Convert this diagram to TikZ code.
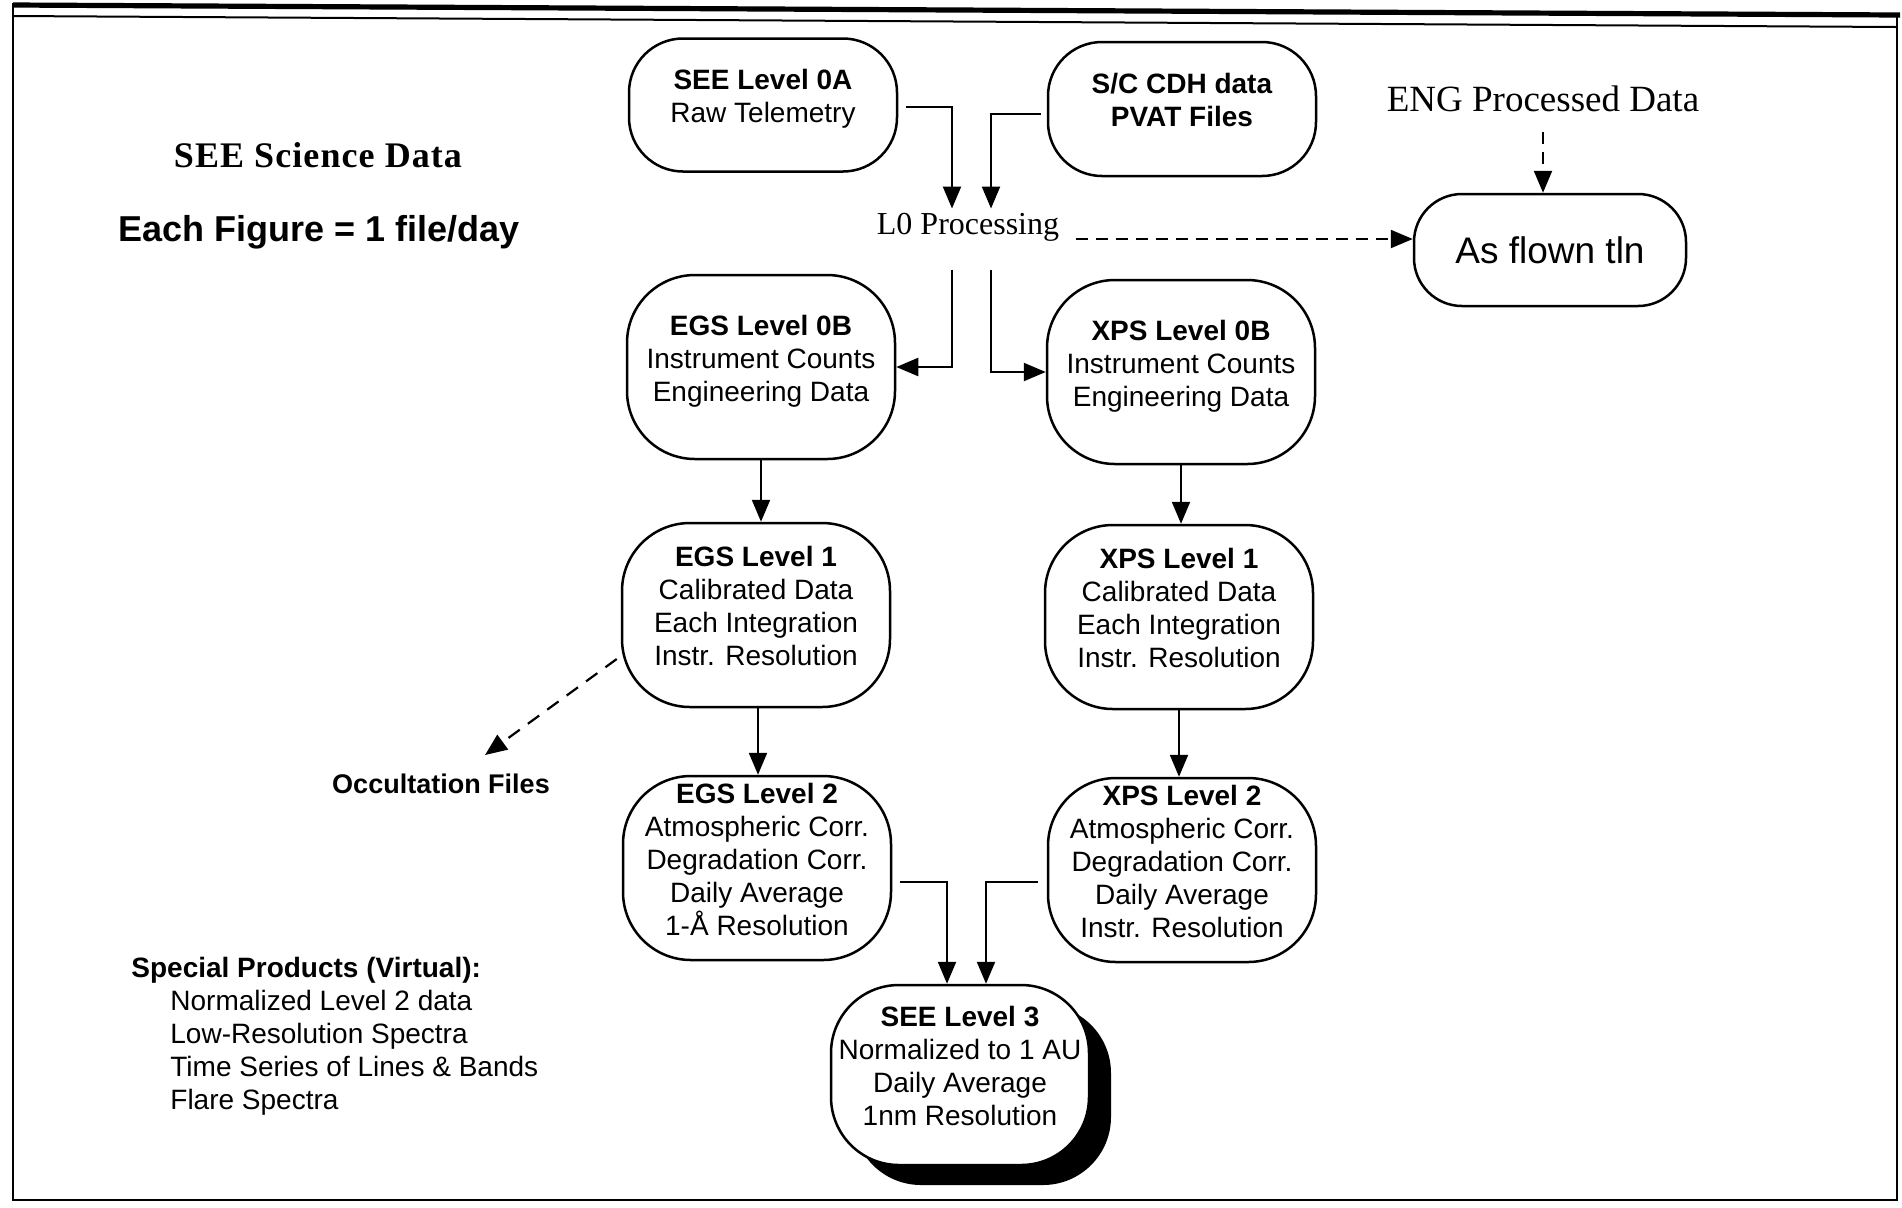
\documentclass[tikz,border=0pt]{standalone}
\usepackage{fontspec}
\setmainfont{Liberation Serif}
\setsansfont{Liberation Sans}
\usetikzlibrary{arrows.meta,shadows}

\begin{document}
\begin{tikzpicture}[x=0.5pt,y=-0.5pt,
  level/.style={draw, line width=1.25pt, rounded corners=34pt, align=center,
    minimum width=134pt, minimum height=92pt, inner sep=0pt, text depth=9pt,
    font=\sffamily\fontsize{14}{16.5}\selectfont},
  flow/.style={-{Triangle[length=11pt,width=9pt]}, line width=1.1pt},
  hint/.style={flow, dash pattern=on 6pt off 4pt}]
  \useasboundingbox (0,0) rectangle (1902,1207);

  \draw[line width=2.6pt] (13,5) -- (1900,15);
  \draw[line width=1pt] (13,16) -- (1897,27);
  \draw[line width=1.2pt] (13,3) -- (13,1200) -- (1897,1200) -- (1897,14);

  \node[font=\bfseries\fontsize{18}{20}\selectfont\addfontfeatures{LetterSpace=3}] (sci) at (318,155) {SEE Science Data};
  \node[font=\sffamily\bfseries\fontsize{18}{20}\selectfont] (fig) at (319,232) {Each Figure = 1 file/day};

  \node[level, minimum height=66.5pt, rounded corners=27pt] (see0a) at (763,105) {\textbf{SEE Level 0A}\\Raw Telemetry};
  \node[level, minimum height=67pt, rounded corners=27pt] (cdh) at (1182,109) {\textbf{S/C CDH data}\\\textbf{PVAT Files}};
  \node[font=\fontsize{16}{18}\selectfont, inner sep=2pt] (l0) at (968,227) {L0 Processing};
  \node[font=\fontsize{18.5}{20}\selectfont, inner sep=2pt] (eng) at (1543,99) {ENG Processed Data};
  \node[level, minimum width=136pt, minimum height=56pt, rounded corners=24pt, text depth=,
    font=\sffamily\fontsize{18.5}{20}\selectfont] (flown) at (1550,250) {As flown tln};

  \node[level] (egs0) at (761,367) {\textbf{EGS Level 0B}\\Instrument Counts\\Engineering Data};
  \node[level] (xps0) at (1181,372) {\textbf{XPS Level 0B}\\Instrument Counts\\Engineering Data};
  \node[level] (egs1) at (756,615) {\textbf{EGS Level 1}\\Calibrated Data\\Each Integration\\Instr. Resolution};
  \node[level] (xps1) at (1179,617) {\textbf{XPS Level 1}\\Calibrated Data\\Each Integration\\Instr. Resolution};
  \node[level] (egs2) at (757,868) {\textbf{EGS Level 2}\\Atmospheric Corr.\\Degradation Corr.\\Daily Average\\1-Å Resolution};
  \node[level] (xps2) at (1182,870) {\textbf{XPS Level 2}\\Atmospheric Corr.\\Degradation Corr.\\Daily Average\\Instr. Resolution};
  \node[level, minimum width=129pt, minimum height=90pt, fill=white,
    drop shadow={shadow xshift=11pt, shadow yshift=-10pt, opacity=1, fill=black}] (see3) at (960,1075)
    {\textbf{SEE Level 3}\\Normalized to 1 AU\\Daily Average\\1nm Resolution};

  \node[font=\sffamily\bfseries\fontsize{13.5}{16}\selectfont] (occ) at (441,784) {Occultation Files};
  \node[anchor=north west, align=left, inner sep=0pt, font=\sffamily\fontsize{14}{16.5}\selectfont] (special) at (131,957)
    {\textbf{Special Products (Virtual):}\\\hspace*{19.5pt}Normalized Level 2 data\\\hspace*{19.5pt}Low-Resolution Spectra\\
     \hspace*{19.5pt}Time Series of Lines \& Bands\\\hspace*{19.5pt}Flare Spectra};

  \draw[flow] ([xshift=4pt,yshift=-1pt]see0a.east) -| ([xshift=-8pt]l0.north);
  \draw[flow] ([xshift=-3pt,yshift=-2.5pt]cdh.west) -| ([xshift=11.5pt]l0.north);
  \draw[flow, shorten <=12pt] ([xshift=-8pt]l0.south) |- (egs0.east);
  \draw[flow, shorten <=12pt] ([xshift=11.5pt]l0.south) |- (xps0.west);
  \draw[hint] ([xshift=6pt,yshift=-6pt]l0.east) -- ([yshift=-6pt]l0.east -| flown.west);
  \draw[hint, shorten <=8pt] (eng.south) -- (eng.south |- flown.north);

  \draw[flow] (egs0.south) -- (egs0.south |- egs1.north);
  \draw[flow] (xps0.south) -- (xps0.south |- xps1.north);
  \draw[flow] ([xshift=1pt]egs1.south) -- ([xshift=1pt]egs1.south |- egs2.north);
  \draw[flow] (xps1.south) -- (xps1.south |- xps2.north);
  \draw[hint, dash pattern=on 7pt off 5pt] ([xshift=-2pt,yshift=-22pt]egs1.west) -- ([xshift=22pt,yshift=6pt]occ.north);

  \draw[flow] ([xshift=4pt,yshift=-7pt]egs2.east) -| ([xshift=-6.5pt]see3.north);
  \draw[flow] ([xshift=-4.5pt,yshift=-6pt]xps2.west) -| ([xshift=13pt]see3.north);
\end{tikzpicture}
\end{document}
